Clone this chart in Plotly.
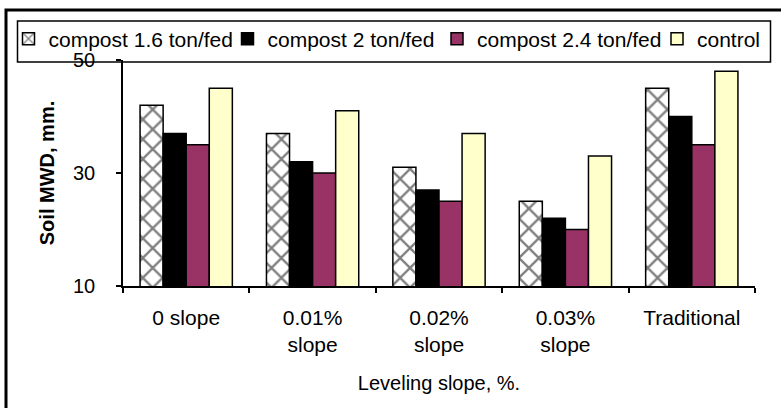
import plotly.graph_objects as go

# Leveling treatments (x categories) and soil MWD (mm) per compost rate
categories = ["0 slope", "0.01%<br>slope", "0.02%<br>slope", "0.03%<br>slope", "Traditional"]
compost_1_6 = [42, 37, 31, 25, 45]
compost_2 = [37, 32, 27, 22, 40]
compost_2_4 = [35, 30, 25, 20, 35]
control = [45, 41, 37, 33, 48]

series_names = ["compost 1.6 ton/fed", "compost 2 ton/fed", "compost 2.4 ton/fed", "control"]
y_ticks = [10, 30, 50]

FONT = "Arial, Liberation Sans, sans-serif"

# plot area in pixels: x 123..755, y 60..286
L, R, T, B = 123, 26, 60, 122
PW, PH = 781 - L - R, 408 - T - B


def px(x):
    return (x - L) / PW


def py(y):
    return (408 - B - y) / PH


fig = go.Figure()

fig.add_trace(go.Bar(
    name=series_names[0], x=categories, y=compost_1_6, legend="legend",
    marker=dict(color="white", line=dict(color="black", width=1.5),
                pattern=dict(shape="x", fgcolor="black", bgcolor="white",
                             size=14, solidity=0.3)),
))
fig.add_trace(go.Bar(
    name=series_names[1], x=categories, y=compost_2, legend="legend2",
    marker=dict(color="#000000", line=dict(color="black", width=1.5)),
))
fig.add_trace(go.Bar(
    name=series_names[2], x=categories, y=compost_2_4, legend="legend3",
    marker=dict(color="#993366", line=dict(color="black", width=1.5)),
))
fig.add_trace(go.Bar(
    name=series_names[3], x=categories, y=control, legend="legend4",
    marker=dict(color="#FFFFCC", line=dict(color="black", width=1.5)),
))


def legend_at(x_px):
    return dict(
        orientation="h", x=px(x_px), xanchor="left", y=py(39), yanchor="middle",
        bgcolor="rgba(0,0,0,0)", borderwidth=0,
        font=dict(family=FONT, size=21, color="black"),
    )


fig.update_layout(
    width=781, height=408,
    margin=dict(l=L, r=R, t=T, b=B, autoexpand=False),
    paper_bgcolor="white", plot_bgcolor="white",
    barmode="group", bargap=0.27, bargroupgap=0,
    font=dict(family=FONT, size=20, color="black"),
    showlegend=True,
    legend=legend_at(8.5),
    legend2=legend_at(227.5),
    legend3=legend_at(437),
    legend4=legend_at(657),
    xaxis=dict(
        showline=True, linecolor="black", linewidth=1.5,
        ticks="outside", tickson="boundaries", ticklen=5, tickcolor="black", tickwidth=1.5,
        ticklabelstandoff=12,
        tickfont=dict(family=FONT, size=21, color="black"),
        showgrid=False, zeroline=False,
        title=dict(text="Leveling slope, %.", standoff=21,
                   font=dict(family=FONT, size=20, color="black")),
    ),
    yaxis=dict(
        range=[10, 50], tickvals=y_ticks, ticktext=[str(v) for v in y_ticks],
        showline=True, linecolor="black", linewidth=1.5,
        ticks="outside", ticklen=5, tickcolor="black", tickwidth=1.5,
        ticklabelstandoff=17,
        tickfont=dict(family=FONT, size=20, color="black"),
        showgrid=False, zeroline=False,
        title=dict(text="<b>Soil MWD, mm.</b>", standoff=13,
                   font=dict(family=FONT, size=20, color="black")),
    ),
    shapes=[
        # outer chart frame
        dict(type="rect", xref="paper", yref="paper",
             x0=px(6), x1=px(820), y0=py(440), y1=py(10),
             line=dict(color="black", width=3), fillcolor="rgba(0,0,0,0)", layer="above"),
        # legend frame
        dict(type="rect", xref="paper", yref="paper",
             x0=px(17.5), x1=px(770.5), y0=py(62), y1=py(21),
             line=dict(color="black", width=1.5), fillcolor="rgba(0,0,0,0)", layer="above"),
    ],
)

fig.write_html("out.html")
